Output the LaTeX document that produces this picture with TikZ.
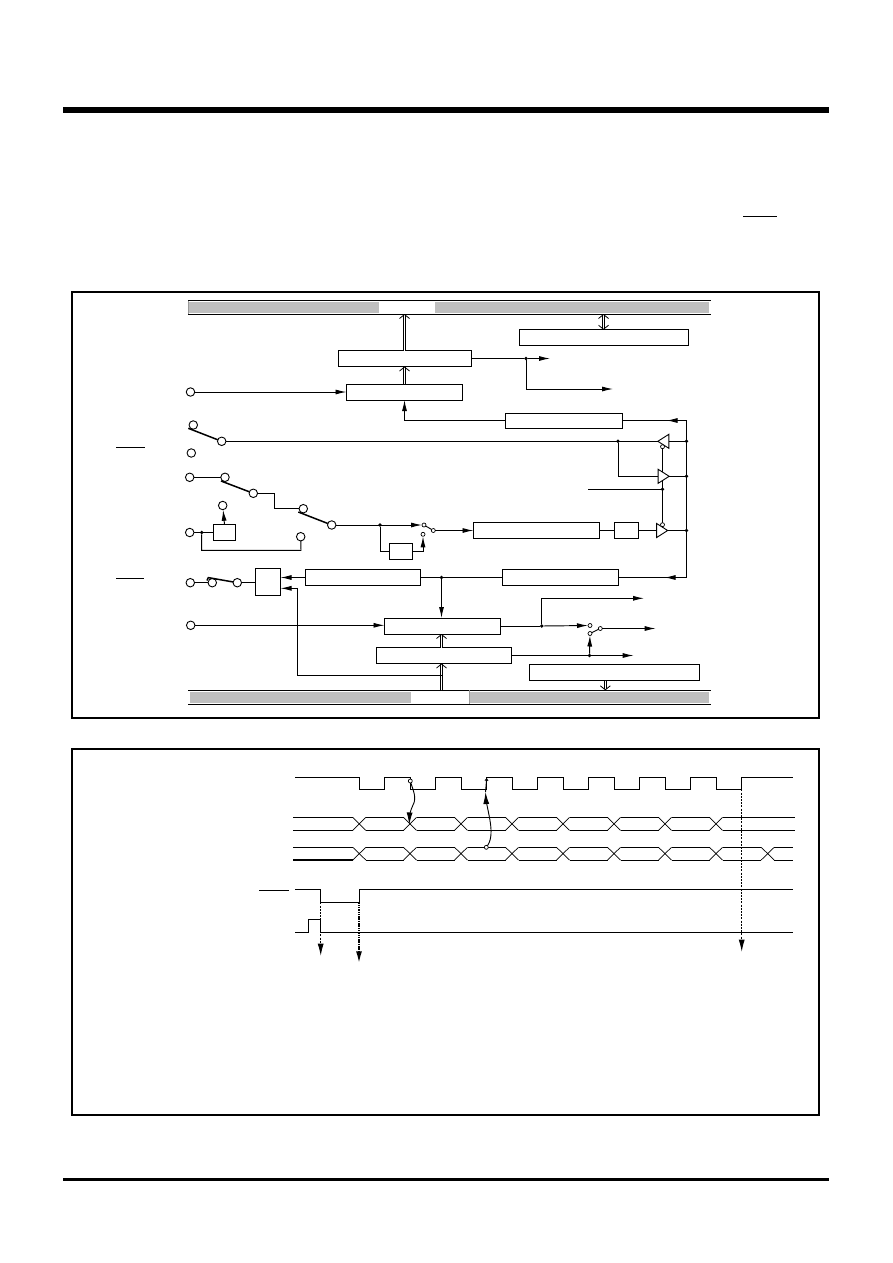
\documentclass[tikz,border=0pt]{standalone}
\usetikzlibrary{arrows.meta,backgrounds,shapes.geometric}
\tikzset{
	blockbox/.style={draw, line width=0.95pt, fill=white, inner sep=0pt, outer sep=0pt, minimum height=16},
	padpin/.style={circle, draw, line width=0.9pt, fill=white, inner sep=0pt, outer sep=0pt, minimum size=8.5},
	tinypin/.style={circle, draw, line width=0.7pt, fill=white, inner sep=0pt, outer sep=0pt, minimum size=4},
	joint/.style={circle, fill=black, inner sep=0pt, outer sep=0pt, minimum size=3.8},
	bufamp/.style={isosceles triangle, isosceles triangle stretches, draw, line width=0.9pt, fill=white, inner sep=0pt, outer sep=0pt, minimum width=14, minimum height=11},
	sig/.style={line width=0.95pt, -{Latex[length=11pt,width=5pt]}},
	wire/.style={line width=0.95pt},
	arm/.style={line width=1.5pt},
	dbl/.style={double, line width=0.8pt, double distance=1.5pt, -{Straight Barb[length=4pt,width=10pt,line width=0.8pt]}},
	dblboth/.style={double, line width=0.8pt, double distance=1.5pt, {Straight Barb[length=4pt,width=10pt,line width=0.8pt]}-{Straight Barb[length=4pt,width=10pt,line width=0.8pt]}},
	wave/.style={line width=0.95pt},
	cross/.style={line width=0.7pt},
	timetip/.style={-{Latex[length=12pt,width=6pt]}}
}
\def\datacross(#1:#2:#3:#4){%
	\draw[cross] (#1-6.5,#2) -- (#1+6.5,#3) (#1-6.5,#3) -- (#1+6.5,#2);
	\draw[wave] (#1+6.5,#2) -- (#4-6.5,#2) (#1+6.5,#3) -- (#4-6.5,#3);}
\begin{document}
\begin{tikzpicture}[x=1pt,y=-1pt]
			\useasboundingbox (0,0) rectangle (892,1263);
			
			%%%%% PAGE %%%%%
			\fill (63,107) rectangle (829,113);
			\fill (63,1177.5) rectangle (829,1180.5);
			\draw[line width=0.95pt] (743,216) -- (777,216);
			\draw[line width=2.6pt] (72,292) rectangle (819,718);
			\draw[line width=2.6pt] (72,749) rectangle (819,1115);
			
			%%%%% BUSES %%%%%
			\fill[black!25] (189,302) rectangle (379,313);
			\fill[black!25] (435,302) rectangle (709,313);
			\draw[wire] (188,300.5) -- (711,300.5);
			\draw[wire] (188,314) -- (711,314);
			\draw[line width=0.4pt, black!40] (188,300.5) -- (188,314);
			\coordinate (toprail) at (188,314);
			
			\fill[black!25] (190,691.5) rectangle (411,703);
			\fill[black!25] (469,691.5) rectangle (709,703);
			\draw[wire] (188,690.3) -- (711,690.3);
			\draw[wire] (188,704.3) -- (711,704.3);
			\draw[line width=0.4pt, black!40] (469,690.3) -- (469,704.3);
			\coordinate (botrail) at (188,690.3);
			
			%%%%% BLOCKS %%%%%
			\node[blockbox, minimum width=133] (boxa) at (404.5,358.5) {};
			\node[blockbox, minimum width=116] (boxb) at (404.5,392) {};
			\node[blockbox, minimum width=169, minimum height=15.5] (boxc) at (603.5,337.5) {};
			\node[blockbox, minimum width=117, minimum height=15] (boxd) at (563.5,420.5) {};
			\node[blockbox, minimum width=126] (boxe) at (536.5,530.5) {};
			\node[blockbox, minimum width=24] (boxf) at (626.5,530.5) {};
			\node[blockbox, minimum width=23] (boxg) at (401,551.5) {};
			\node[blockbox, minimum width=22] (boxh) at (224.5,532.5) {};
			\node[blockbox, minimum width=25, minimum height=27] (boxi) at (268,582) {};
			\node[blockbox, minimum width=115] (boxj) at (363,577.5) {};
			\node[blockbox, minimum width=116] (boxk) at (560.5,577.5) {};
			\node[blockbox, minimum width=116] (boxl) at (442.5,626) {};
			\node[blockbox, minimum width=135] (boxm) at (444,655.5) {};
			\node[blockbox, minimum width=170] (boxn) at (614.5,672.5) {};
			
			%%%%% PINS %%%%%
			\node[padpin] (pina) at (190.5,392) {};
			\node[padpin] (pinb) at (193.3,425) {};
			\node[padpin] (pinc) at (191.3,453) {};
			\node[padpin] (pind) at (221.7,441.3) {};
			\node[padpin] (pine) at (189.7,477.3) {};
			\node[padpin] (pinf) at (225,477.3) {};
			\node[padpin] (ping) at (253.3,493.3) {};
			\node[padpin] (pinh) at (222.7,505.5) {};
			\node[padpin] (pini) at (303.3,508.7) {};
			\node[padpin] (pinj) at (331.7,525) {};
			\node[padpin] (pink) at (189.7,532.5) {};
			\node[padpin] (pinl) at (300.7,536.7) {};
			\node[padpin] (pinm) at (190.3,582.7) {};
			\node[padpin] (pinn) at (212.3,582.7) {};
			\node[padpin] (pino) at (237.3,582.7) {};
			\node[padpin] (pinp) at (190.7,625.3) {};
			
			\node[tinypin] (swga) at (424,525) {};
			\node[tinypin] (swgb) at (433.3,530.5) {};
			\node[tinypin] (swgc) at (423,534.3) {};
			\node[tinypin] (swla) at (590,625.5) {};
			\node[tinypin] (swlb) at (600.3,628.5) {};
			\node[tinypin] (swlc) at (590,633.5) {};
			
			%%%%% BUFFERS %%%%%
			\node[bufamp, shape border rotate=180] (bufa) at (665,441.3) {};
			\node[bufamp] (bufb) at (662,476.3) {};
			\node[bufamp] (bufc) at (660.5,530.5) {};
			\node[tinypin] (bubba) at (662.5,446.7) {};
			\node[tinypin] (bubbc) at (662.5,524.7) {};
			
			\coordinate (railtop) at (686.5,420.5);
			\coordinate (railbot) at (686.5,577.5);
			\node[joint] (ja) at (686.5,441.3) {};
			\node[joint] (jb) at (686.5,476.3) {};
			\node[joint] (jc) at (686.5,530.5) {};
			\node[joint] (jd) at (618,441.3) {};
			\node[joint] (je) at (662.5,489.3) {};
			\node[joint] (jf) at (526,358.5) {};
			\node[joint] (jg) at (380,525) {};
			\node[joint] (jh) at (201.7,532.5) {};
			\node[joint] (ji) at (441.5,577.5) {};
			\node[joint] (jj) at (541.7,626) {};
			\node[joint] (jk) at (589.5,655.5) {};
			
			%%%%% CONNECTORS %%%%%
			\begin{scope}[on background layer]
				\draw[wire] (bubba) -- (bubbc);
			\end{scope}
			
			\draw[dbl] (boxa.north) -- (boxa.north |- toprail);
			\draw[dbl] (boxb.north) -- (boxa.south);
			\draw[dblboth] (boxc.north) -- (boxc.north |- toprail);
			\draw[sig] (pina) -- (boxb.west);
			\draw[sig] (boxd.west) -| (boxb.south);
			
			\draw[wire] (boxa.east) -- (jf);
			\coordinate (outa) at (550,358.5);
			\coordinate (outb) at (613,389);
			\draw[sig] (jf) -- (outa);
			\draw[sig] (jf) |- (outb);
			
			\draw[wire] (boxd.east) -- (railtop) -- (railbot) -- (boxk.east);
			\draw[sig] (railtop) -- +(-20,0);
			\draw[sig] (railbot) -- +(-22,0);
			
			\draw[wire] (pind) -- (bufa.apex);
			\draw[wire] (bufa.lower side) -- (ja);
			\coordinate (bendb) at (618,476.3);
			\draw[wire] (jd) -- (bendb) -- (bufb.lower side);
			\draw[wire] (bufb.apex) -- (jb);
			\draw[wire] (bufc.apex) -- (jc);
			\coordinate (ctrl) at (588,489.3);
			\draw[wire] (ctrl) -- (je);
			
			\draw[wire] (boxe.east) -- (boxf.west);
			\draw[wire] (boxf.east) -- (bufc.lower side);
			\draw[sig] (swgb) -- (boxe.west);
			\draw[sig] (pinj) -- (swga);
			\draw[line width=0.9pt] (swga) -- (swgb);
			\coordinate (gin) at (380,551.5);
			\draw[wire] (jg) -- (gin) -- (boxg.west);
			\draw[sig] (boxg.east) -| (swgc);
			
			\coordinate (arma) at (188.3,428.3);
			\draw[arm] (arma) -- (pind);
			\coordinate (armb) at (221,481);
			\draw[arm] (armb) -- (ping);
			\coordinate (armc) at (298.3,512);
			\draw[arm] (armc) -- (pinj);
			\draw[wire] (pine) -- (pinf);
			\coordinate (benda) at (274.3,493.3);
			\coordinate (bendc) at (274.3,508.7);
			\draw[wire] (ping) -- (benda) -- (bendc) -- (pini);
			
			\draw[wire] (pink) -- (boxh.west);
			\draw[sig] (boxh.north) -- (pinh);
			\coordinate (loopa) at (201.7,550.3);
			\coordinate (loopb) at (301,550.3);
			\draw[wire] (jh) -- (loopa) -- (loopb) -- (pinl);
			
			\draw[wire] (pinm) -- (pinn);
			\coordinate (armd) at (208.3,577.6);
			\coordinate (armh) at (207,580.5);
			\draw[arm] (armh) -- (armd) -- (pino);
			\draw[wire] (pino) -- (pino -| boxi.west);
			\draw[sig] (boxj.west) -- (boxj.west -| boxi.east);
			\draw[wire] (boxj.east) -- (boxk.west);
			\draw[sig] (ji) -- (ji |- boxl.north);
			
			\draw[sig] (pinp) -- (pinp -| boxl.west);
			\draw[wire] (boxl.east) -- (jj);
			\draw[sig] (jj) -- (swla);
			\coordinate (outc) at (644,598.3);
			\draw[sig] (jj) |- (outc);
			\draw[line width=0.9pt] (swlc) -- (swlb);
			\coordinate (outd) at (655.7,628.5);
			\draw[sig] (swlb) -- (outd);
			\draw[wire] (boxm.east) -- (jk);
			\coordinate (oute) at (633.7,655.5);
			\draw[sig] (jk) -- (oute);
			\draw[sig] (jk) -- (swlc);
			
			\coordinate (busup) at (441.5,690.3);
			\coordinate (tap) at (441.5,675.3);
			\coordinate (riser) at (297.3,588.3);
			\draw[dbl] (busup) -- (busup |- boxm.south);
			\draw[dbl] (busup |- boxm.north) -- (busup |- boxl.south);
			\draw[wire] (tap) -| (riser);
			\draw[sig] (riser) -- (riser -| boxi.east);
			\draw[dbl] (605.3,680.5) -- (605.3,690.3);
			
			\draw[line width=0.95pt] (116,447) -- (145,447);
			\draw[line width=0.95pt] (116,578.3) -- (144,578.3);
			
			%%%%% TIMING %%%%%
			\draw[wave] (295,777.3) -- (359.3,777.3) -- (359.3,789.3) -- (384.7,789.3) -- (384.7,777.3) -- (410.3,777.3) -- (410.3,789.3) -- (435.7,789.3) -- (435.7,777.3) -- (461.3,777.3) -- (461.3,789.3) -- (486.7,789.3) -- (486.7,777.3) -- (512.3,777.3) -- (512.3,789.3) -- (537.7,789.3) -- (537.7,777.3) -- (563.5,777.3) -- (563.5,789.3) -- (588.5,789.3) -- (588.5,777.3) -- (614.7,777.3) -- (614.7,789.3) -- (639.5,789.3) -- (639.5,777.3) -- (665.7,777.3) -- (665.7,789.3) -- (690.5,789.3) -- (690.5,777.3) -- (716.7,777.3) -- (716.7,789.3) -- (741.7,789.3) -- (741.7,777.3) -- (792.7,777.3);
			
			\draw[wave] (293,817.3) -- (352.8,817.3);
			\draw[wave] (293,830.3) -- (352.8,830.3);
			\datacross(359.3:817.3:830.3:410)
			\datacross(410:817.3:830.3:461)
			\datacross(461:817.3:830.3:512)
			\datacross(512:817.3:830.3:563)
			\datacross(563:817.3:830.3:614)
			\datacross(614:817.3:830.3:665)
			\datacross(665:817.3:830.3:716)
			\datacross(716:817.3:830.3:794.5+6.5)
			
			\draw[wave] (293,847.3) -- (352.8,847.3);
			\draw[line width=2.1pt] (293,860) -- (352.8,860);
			\datacross(359.3:847.3:860:410)
			\datacross(410:847.3:860:461)
			\datacross(461:847.3:860:512)
			\datacross(512:847.3:860:563)
			\datacross(563:847.3:860:614)
			\datacross(614:847.3:860:665)
			\datacross(665:847.3:860:716)
			\datacross(716:847.3:860:767.7)
			\datacross(767.7:847.3:860:793+6.5)
			
			\draw[wave] (295,889.3) -- (320.7,889.3) -- (320.7,902.3) -- (359.3,902.3) -- (359.3,889.3) -- (792.7,889.3);
			\draw[wave] (295,932.3) -- (308.3,932.3) -- (308.3,919.3) -- (320.7,919.3) -- (320.7,932.3) -- (792.7,932.3);
			\draw[line width=0.95pt] (259,890.3) -- (288.7,890.3);
			
			\draw[timetip, line width=0.9pt, dash pattern=on 2pt off 1.2pt] (320.7,902.3) -- (320.7,955.7);
			\draw[timetip, line width=1.7pt, dash pattern=on 1.5pt off 0.8pt] (359,902.3) -- (359,963.3);
			\draw[timetip, line width=0.9pt, dash pattern=on 2pt off 1.2pt] (741.7,789.3) -- (741.7,951.7);
			
			\node[tinypin] (edgea) at (410.3,781) {};
			\coordinate (edgeb) at (409.3,824.5);
			\draw[timetip, line width=0.9pt] (edgea) .. controls (413,790) and (417,798) .. (413,805) .. controls (410,811) and (409.5,817) .. (edgeb);
			\node[tinypin] (edgec) at (486.3,847.3) {};
			\coordinate (edged) at (485.5,792);
			\coordinate (edgee) at (486.7,778);
			\draw[timetip, line width=0.9pt] (edgec) .. controls (493,838) and (491,825) .. (489,815) .. controls (487,805) and (486,800) .. (edged);
			\draw[line width=0.9pt, -{Straight Barb[length=2pt,width=3pt]}] (edged) -- (edgee);
			
			%%%%% END %%%%%
		\end{tikzpicture}
\end{document}
